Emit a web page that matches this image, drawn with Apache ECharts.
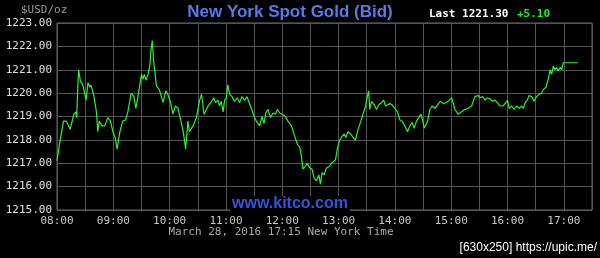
<!DOCTYPE html>
<html>
<head>
<meta charset="utf-8">
<style>
html,body{margin:0;padding:0;background:#000;}
#c{width:600px;height:258px;}
</style>
<script src="https://cdn.jsdelivr.net/npm/echarts@6/dist/echarts.min.js"></script>
</head>
<body>
<div id="c"></div>
<script>
// minutes after 08:00 (New York time)
var minutes = [
0,3,7,10,14,18,20,21,22,23,
25,27.5,31,33,35,36,39,42,43.5,45,
48,51,54,57,59.5,62,64,67,70,73,
75.5,79,82,84,86,88,90,91.5,93,95,
97,99,100,101.5,103,106,109,113,116,118,
121,123.5,126,129,132,134,136,137,139.5,141,
145,148.5,152,154,156.6,158,161,164,167,169,
171.5,173,175,177,178.6,180.4,182,184,186.4,189,
192,194.6,197,200,202.4,204.6,207,210,212.4,216,
218.4,220.6,222.4,224.8,227.4,230.2,232.7,234.8,237.3,239.7,
243.4,246,249.8,253.3,256.2,258.6,260.4,262,264,266.8,
269.3,271.7,274,276.4,279,280.7,282.4,284.6,287,289.6,
292.4,294,296.7,298.8,301.3,303.7,306,307.7,310,313,
315.5,318,320.8,323.7,326,328.7,330.4,332,333.3,335,
338,340.4,343,345.8,348,350,352,354.6,357,360,
362.8,365.3,367.7,370.6,373.5,376,378.4,380.5,383,385.5,
387.7,389.5,391.2,392.7,394.8,397.3,399.7,402.6,405.5,408.3,
411.5,415,418,420.4,422,424,427.5,431,434.6,438,
441.7,443.4,445.3,447,448.8,450.6,453.5,456,458.4,461.3,
464,466.6,469,472,475.4,478.3,480,481.8,484.4,487,
489.7,492.5,495,496.8,499,501,503,505.7,508.2,511,
513.8,516.4,518,521,523.4,525.3,527,528.8,530.6,532.4,
534,536,537.7,539.4,543,548.4,555
];
// bid price, $USD/oz
var prices = [
1217.1,1217.9,1218.8,1218.8,1218.45,1219.1,1219.2,1218.95,1220.1,1221.0,
1220.5,1220.35,1219.7,1220.45,1220.25,1220.35,1219.95,1219.2,1218.35,1218.8,
1218.6,1218.6,1218.95,1218.8,1218.35,1218.1,1217.6,1218.35,1218.8,1218.85,
1219.2,1220.0,1219.85,1219.35,1219.8,1220.3,1220.8,1220.6,1220.8,1220.55,
1220.8,1221.2,1221.8,1222.25,1221.35,1220.3,1220.15,1219.6,1220.1,1219.95,
1219.6,1219.1,1219.45,1219.35,1218.8,1218.45,1217.95,1217.6,1218.8,1218.35,
1218.6,1218.95,1219.7,1219.95,1219.1,1219.2,1219.45,1219.6,1219.8,1219.6,
1219.7,1219.45,1219.65,1219.2,1219.7,1219.8,1220.35,1219.95,1219.85,1219.65,
1219.8,1219.6,1219.85,1219.7,1219.85,1219.6,1219.35,1219.0,1218.8,1218.6,
1219.0,1218.7,1219.15,1219.3,1218.95,1219.15,1219.1,1219.3,1219.15,1219.1,
1219.0,1218.8,1218.6,1218.15,1217.8,1217.7,1217.3,1216.75,1216.85,1217.0,
1216.8,1216.75,1216.35,1216.25,1216.5,1216.1,1216.6,1216.5,1216.8,1216.85,
1217.0,1216.95,1217.15,1217.65,1218.0,1218.15,1218.25,1218.1,1218.35,1218.25,
1218.1,1218.0,1218.45,1218.8,1219.1,1219.45,1219.8,1220.1,1219.3,1219.65,
1219.5,1219.3,1219.5,1219.6,1219.7,1219.45,1219.5,1219.55,1219.5,1219.35,
1219.2,1218.85,1218.8,1218.6,1218.35,1218.6,1218.75,1218.5,1218.8,1218.95,
1219.1,1218.85,1218.5,1218.45,1218.8,1219.3,1219.45,1219.35,1219.5,1219.65,
1219.55,1219.6,1219.7,1219.8,1219.6,1219.3,1219.1,1219.2,1219.3,1219.35,
1219.45,1219.45,1219.85,1219.8,1219.9,1219.8,1219.85,1219.7,1219.8,1219.75,
1219.65,1219.7,1219.6,1219.45,1219.45,1219.6,1219.7,1219.35,1219.45,1219.3,
1219.45,1219.35,1219.45,1219.35,1219.6,1219.7,1219.9,1219.85,1219.65,1219.85,
1219.95,1220.0,1220.15,1220.25,1220.6,1221.0,1220.8,1221.15,1221.0,1221.1,
1220.95,1221.1,1221.0,1221.3,1221.3,1221.3,1221.3
];
var hourLabels = ['08:00','09:00','10:00','11:00','12:00','13:00','14:00','15:00','16:00','17:00'];
var titleText = 'New York Spot Gold (Bid)';
var lastText = 'Last 1221.30';
var changeText = '+5.10';
var unitText = '$USD/oz';
var siteText = 'www.kitco.com';
var dateText = 'March 28, 2016 17:15 New York Time';
var stampText = '[630x250] https://upic.me/';

var data = minutes.map(function (m, i) { return [m, prices[i]]; });
var mono = '"DejaVu Sans Mono", monospace';

var chart = echarts.init(document.getElementById('c'));
chart.setOption({
  backgroundColor: '#000',
  animation: false,
  grid: {
    left: 57, top: 23, width: 535, height: 187,
    show: true, borderColor: '#6a6a6a', borderWidth: 1, backgroundColor: '#000'
  },
  xAxis: {
    type: 'value', min: 0, max: 570, interval: 30,
    axisLine: { show: false },
    axisTick: { show: false },
    splitLine: { show: true, lineStyle: { color: '#555', width: 1 } },
    axisLabel: {
      color: '#c8c8c8', fontFamily: mono, fontSize: 11, margin: 6,
      showMaxLabel: false,
      formatter: function (v) { return v % 60 === 0 ? hourLabels[v / 60] : ''; }
    }
  },
  yAxis: {
    type: 'value', min: 1215, max: 1223, interval: 1,
    axisLine: { show: false },
    axisTick: { show: false },
    splitLine: { show: true, lineStyle: { color: '#555', width: 1 } },
    axisLabel: {
      color: '#e0e0e0', fontFamily: mono, fontSize: 11, margin: 5,
      formatter: function (v) { return v.toFixed(2); }
    }
  },
  series: [{
    type: 'line',
    data: data,
    showSymbol: false,
    lineStyle: { color: '#2ef02e', width: 1.2 },
    z: 3
  }],
  graphic: [
    { type: 'text', left: 21, top: 5, style: { text: unitText, fill: '#9a9a9a', font: '11px ' + mono } },
    { type: 'text', x: 290, y: 4, style: { text: titleText, fill: '#5a78e6', font: 'bold 17px "Liberation Sans", Arial, sans-serif', textAlign: 'center' } },
    { type: 'text', x: 429, y: 9, style: { text: lastText, fill: '#ffffff', font: 'bold 11px ' + mono } },
    { type: 'text', x: 517, y: 9, style: { text: changeText, fill: '#22ee22', font: 'bold 11px ' + mono } },
    { type: 'text', x: 290, y: 196, z: 10, style: { text: siteText, fill: '#3355dd', font: 'bold 16px "Liberation Sans", Arial, sans-serif', textAlign: 'center', backgroundColor: '#000', padding: [0, 2, 2, 2] } },
    { type: 'text', x: 281, y: 227, style: { text: dateText, fill: '#a8a8a8', font: '11px ' + mono, textAlign: 'center' } },
    { type: 'text', x: 597, y: 242, style: { text: stampText, fill: '#ffffff', font: '12px "Liberation Sans", Arial, sans-serif', textAlign: 'right' } }
  ]
});
</script>
</body>
</html>
